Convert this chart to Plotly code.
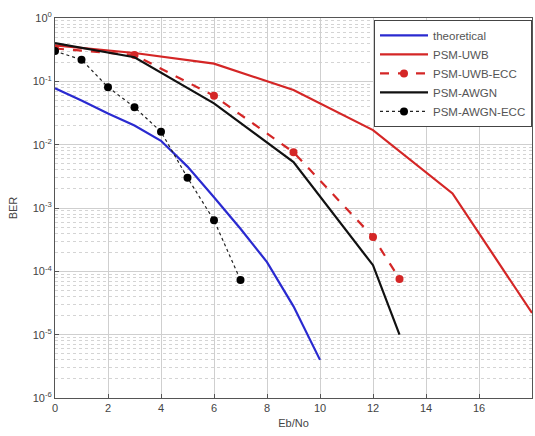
import plotly.graph_objects as go

# ---- data ----
x_theory = [0, 1, 2, 3, 4, 5, 6, 7, 8, 9, 10]
y_theory = [0.078, 0.05, 0.031, 0.02, 0.0115, 0.0045, 0.00148, 4.7e-4, 1.4e-4, 2.8e-5, 4e-6]

x_uwb = [0, 3, 6, 9, 12, 15, 18]
y_uwb = [0.37, 0.28, 0.19, 0.073, 0.017, 0.0017, 2.2e-5]

x_uwb_ecc = [0, 3, 6, 9, 12, 13]
y_uwb_ecc = [0.33, 0.26, 0.059, 0.0076, 3.5e-4, 7.6e-5]

x_awgn = [0, 3, 6, 9, 12, 13]
y_awgn = [0.4, 0.24, 0.045, 0.0053, 1.25e-4, 1.0e-5]

x_awgn_ecc = [0, 1, 2, 3, 4, 5, 6, 7]
y_awgn_ecc = [0.3, 0.22, 0.081, 0.039, 0.016, 0.003, 6.4e-4, 7.3e-5]

x_ticks = [0, 2, 4, 6, 8, 10, 12, 14, 16, 18]
y_exps = [0, -1, -2, -3, -4, -5, -6]

FONT = "Liberation Sans, Arial, sans-serif"

fig = go.Figure()
fig.add_trace(go.Scatter(x=x_theory, y=y_theory, mode="lines", name="theoretical",
                         legendgroup="a",
                         line=dict(color="#2a2ad0", width=2.2)))
fig.add_trace(go.Scatter(x=x_uwb, y=y_uwb, mode="lines", name="PSM-UWB",
                         legendgroup="b",
                         line=dict(color="#d42626", width=2.2)))
fig.add_trace(go.Scatter(x=x_uwb_ecc, y=y_uwb_ecc, mode="lines+markers", name="PSM-UWB-ECC",
                         legendgroup="c",
                         line=dict(color="#d42626", width=2.2, dash="dash"),
                         marker=dict(color="#d42626", size=8, symbol="circle")))
fig.add_trace(go.Scatter(x=x_awgn, y=y_awgn, mode="lines", name="PSM-AWGN",
                         legendgroup="d",
                         line=dict(color="#111111", width=2.2)))
fig.add_trace(go.Scatter(x=x_awgn_ecc, y=y_awgn_ecc, mode="lines+markers", name="PSM-AWGN-ECC",
                         legendgroup="e",
                         line=dict(color="#222222", width=1.2, dash="dot"),
                         marker=dict(color="#000000", size=8, symbol="circle")))

minor_vals = [m * 10.0 ** e for e in range(-6, 0) for m in range(2, 10)]

fig.update_layout(
    width=535, height=436,
    margin=dict(l=55, r=3, t=18, b=38),
    paper_bgcolor="white", plot_bgcolor="white",
    font=dict(family=FONT, size=11, color="#444444"),
    showlegend=True,
    legend=dict(x=1, y=0.995, xanchor="right", yanchor="top",
                bgcolor="white", bordercolor="#444444", borderwidth=1,
                font=dict(size=11.5, color="#555555"),
                tracegroupgap=0, itemwidth=48),
)
fig.update_xaxes(
    range=[0, 18], tickvals=x_ticks, ticktext=[str(v) for v in x_ticks],
    showgrid=True, gridcolor="#cfcfcf", gridwidth=1,
    showline=True, linecolor="#555555", linewidth=1, mirror=True,
    ticks="inside", ticklen=4, tickcolor="#555555",
    title=dict(text="Eb/No", font=dict(size=11), standoff=6),
    zeroline=False,
)
fig.update_yaxes(
    type="log", range=[-6, 0],
    tickvals=[10.0 ** e for e in y_exps],
    ticktext=["10<sup>%d</sup>" % e for e in y_exps],
    showgrid=True, gridcolor="#cfcfcf", gridwidth=1,
    minor=dict(tickvals=minor_vals, showgrid=True, gridcolor="#d4d4d4",
               griddash="dot", ticks=""),
    showline=True, linecolor="#555555", linewidth=1, mirror=True,
    ticks="inside", ticklen=4, tickcolor="#555555",
    title=dict(text="BER", font=dict(size=11), standoff=12),
    zeroline=False,
)

fig.write_html(
    "out.html",
    config={"displayModeBar": False},
    post_script="document.body.style.margin='0';document.body.style.overflow='hidden';",
)
